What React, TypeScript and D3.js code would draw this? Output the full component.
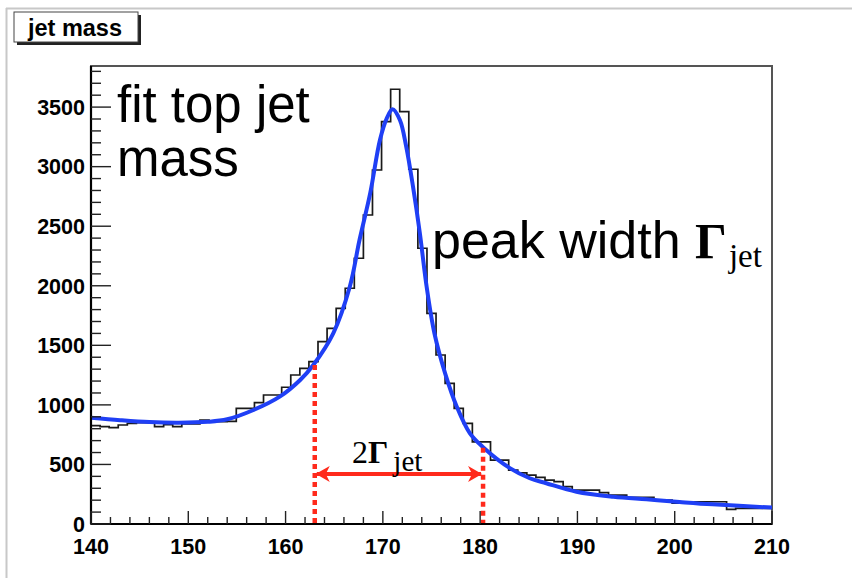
import React from "react";
import * as d3 from "d3";

// ---- data ----
const massDomain: [number, number] = [140, 210];
const countDomain: [number, number] = [0, 3845];
const binCounts = [
  826, 817, 809, 831, 845, 851, 851, 817, 835, 817,
  840, 840, 873, 859, 859, 862, 971, 971, 1019, 1083,
  1083, 1148, 1251, 1307, 1363, 1531, 1643, 1811, 1979, 2231,
  2594, 2972, 3378, 3650, 3462, 2978, 2315, 1769, 1419, 1181,
  970, 845, 690, 690, 537, 537, 453, 430, 411, 392,
  369, 355, 313, 285, 285, 285, 263, 243, 243, 224,
  224, 224, 201, 201, 174, 187, 187, 187, 187, 187,
  123, 132, 132, 132, 132,
];
const fitMass = [
  140, 143, 146, 149, 152, 154, 156.7, 159.4, 161.5, 162.85,
  164.9, 166.6, 167.6, 168.7, 169.7, 170.4, 171.0, 171.75, 172.4, 173.1,
  173.8, 174.5, 175.3, 176.4, 177.6, 178.95, 180.3, 183.1, 185.1, 186.8,
  189.9, 193.7, 197.1, 200.5, 203.9, 210,
];
const fitCounts = [
  893, 872, 856, 851, 858, 879, 957, 1069, 1209, 1335,
  1601, 1992, 2384, 2777, 3224, 3406, 3482, 3392, 3168, 2832,
  2443, 1992, 1601, 1265, 985, 761, 645, 467, 384, 342,
  271, 229, 207, 185, 165, 138,
];
const xTicks = [140, 150, 160, 170, 180, 190, 200, 210];
const yTicks = [0, 500, 1000, 1500, 2000, 2500, 3000, 3500];
const widthLow = 163.0;
const widthHigh = 180.3;
const widthLowTop = 1335;
const widthHighTop = 640;
const arrowLevel = 420;

const SANS = "'Liberation Sans', Arial, Helvetica, sans-serif";
const SERIF = "'Liberation Serif', 'Times New Roman', serif";
const RED = "#ff2a1c";
const BLUE = "#1f3ff5";

export default function App() {
  const L = 91, R = 772, T = 66, B = 524;
  const x = d3.scaleLinear().domain(massDomain).range([L, R]);
  const y = d3.scaleLinear().domain(countDomain).range([B, T]);

  const nb = binCounts.length;
  const edges = d3.range(nb + 1).map((i) => massDomain[0] + (i * (massDomain[1] - massDomain[0])) / nb);
  const histPts: [number, number][] = binCounts.flatMap((c, i) => [
    [edges[i], c] as [number, number],
    [edges[i + 1], c] as [number, number],
  ]);
  const line = d3.line<[number, number]>().x((d) => x(d[0])).y((d) => y(d[1]));
  const histPath = line(histPts) || "";
  const fitPath =
    d3
      .line<[number, number]>()
      .x((d) => x(d[0]))
      .y((d) => y(d[1]))
      .curve(d3.curveCatmullRom.alpha(0.5))(fitMass.map((m, i) => [m, fitCounts[i]] as [number, number])) || "";

  const yMinor = d3.range(0, 3801, 100).filter((v) => v % 500 !== 0);
  const xMinor = d3.range(140, 210.001, 2).filter((v) => Math.abs(v % 10) > 0.01);

  const ax = y(arrowLevel);
  return (
    <svg width={852} height={578} style={{ position: "absolute", left: 0, top: 0, background: "#fff" }}>
      <defs>
        <clipPath id="plot">
          <rect x={L} y={T} width={R - L} height={B - T} />
        </clipPath>
        <marker id="ah" viewBox="0 0 14 16" refX={13} refY={8} markerWidth={14} markerHeight={16} markerUnits="userSpaceOnUse" orient="auto-start-reverse">
          <path d="M0,0 L14,8 L0,16 L4,8 Z" fill={RED} />
        </marker>
      </defs>
      {/* canvas border */}
      <line x1={6} y1={8.5} x2={852} y2={8.5} stroke="#c8c8c8" strokeWidth={2} />
      <line x1={6.5} y1={8} x2={6.5} y2={578} stroke="#c8c8c8" strokeWidth={2} />

      {/* title box */}
      <rect x={17} y={15} width={124} height={30} fill="#222" />
      <rect x={14} y={12} width={124} height={30} fill="#fff" stroke="#444" strokeWidth={1} />
      <text x={75} y={36} textAnchor="middle" fontFamily={SANS} fontWeight="bold" fontSize={23} fill="#000" textLength={94} lengthAdjust="spacingAndGlyphs">
        jet mass
      </text>

      {/* frame */}
      <rect x={L} y={T} width={R - L} height={B - T} fill="none" stroke="#555" strokeWidth={2} />

      {/* histogram */}
      <path d={histPath} fill="none" stroke="#1a1a1a" strokeWidth={1.7} clipPath="url(#plot)" />
      {/* fit */}
      <path d={fitPath} fill="none" stroke={BLUE} strokeWidth={4} clipPath="url(#plot)" />

      {/* width markers */}
      <line x1={x(widthLow)} x2={x(widthLow)} y1={y(widthLowTop)} y2={B} stroke={RED} strokeWidth={4.5} strokeDasharray="5 4" />
      <line x1={x(widthHigh)} x2={x(widthHigh)} y1={y(widthHighTop)} y2={B} stroke={RED} strokeWidth={4.5} strokeDasharray="5 4" />
      <line
        x1={x(widthLow) + 2}
        x2={x(widthHigh) - 2}
        y1={ax}
        y2={ax}
        stroke={RED}
        strokeWidth={4}
        markerStart="url(#ah)"
        markerEnd="url(#ah)"
      />

      {/* axes */}
      <line x1={L} x2={R} y1={B} y2={B} stroke="#000" strokeWidth={2.2} />
      <line x1={L} x2={L} y1={T} y2={B} stroke="#000" strokeWidth={2.2} />
      {yTicks.map((v) => (
        <g key={"y" + v}>
          <line x1={L} x2={L + 20} y1={y(v)} y2={y(v)} stroke="#222" strokeWidth={1.4} />
          <text x={85} y={y(v)} dy="0.36em" textAnchor="end" fontFamily={SANS} fontWeight="bold" fontSize={21.5} fill="#000">
            {v}
          </text>
        </g>
      ))}
      {yMinor.map((v) => (
        <line key={"ym" + v} x1={L} x2={L + 10} y1={y(v)} y2={y(v)} stroke="#222" strokeWidth={1.4} />
      ))}
      {xTicks.map((v) => (
        <g key={"x" + v}>
          <line x1={x(v)} x2={x(v)} y1={B} y2={B - 13} stroke="#222" strokeWidth={1.4} />
          <text x={x(v)} y={554} textAnchor="middle" fontFamily={SANS} fontWeight="bold" fontSize={21.5} fill="#000">
            {v}
          </text>
        </g>
      ))}
      {xMinor.map((v) => (
        <line key={"xm" + v} x1={x(v)} x2={x(v)} y1={B} y2={B - 7} stroke="#222" strokeWidth={1.4} />
      ))}

      {/* annotations */}
      <text x={117} y={122} fontFamily={SANS} fontSize={51} fill="#000">
        fit top jet
      </text>
      <text x={117} y={176} fontFamily={SANS} fontSize={51} fill="#000">
        mass
      </text>
      <text x={432} y={258} fontFamily={SANS} fontSize={52} fill="#000">
        peak width{" "}
        <tspan fontFamily={SERIF} fontWeight="bold" fontSize={50}>Γ</tspan>
        <tspan fontFamily={SERIF} fontSize={33} dy={9} dx={2}>jet</tspan>
      </text>
      <text x={352} y={463} fontFamily={SERIF} fontSize={32} fill="#000">
        2<tspan fontWeight="bold">Γ</tspan>
        <tspan fontSize={29} dy={8} dx={5}>jet</tspan>
      </text>
    </svg>
  );
}
